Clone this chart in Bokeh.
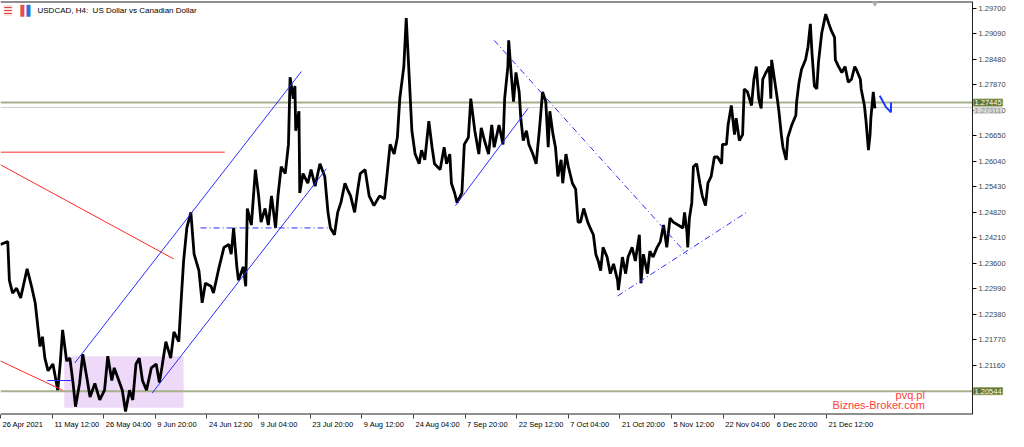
from bokeh.plotting import figure
from bokeh.models import Range1d, FixedTicker, Label, LinearAxis
from bokeh.embed import file_html
from bokeh.resources import INLINE

# ---------------- data (H4 bar index, price) ----------------
bars = [0, 9, 11, 15, 20, 25, 33, 39, 43, 47, 49, 52, 55, 59, 65, 71, 74, 77, 82, 86,
        90, 93, 98, 102, 107, 111, 117, 123, 129, 133, 138, 141, 148, 151, 155, 160, 164, 168, 172, 176,
        181, 187, 193, 197, 200, 205, 211, 215, 221, 224, 227, 231, 236, 240, 246, 250, 254, 261, 264, 270,
        277, 283, 286, 289, 293, 295, 301, 304, 306, 311, 316, 320, 323, 328, 332, 336, 341, 344, 348, 353,
        357, 359, 363, 365, 366, 370, 371, 375, 381, 385, 390, 396, 402, 406, 409, 414, 418, 422, 427, 430,
        434, 439, 443, 446, 452, 457, 463, 470, 476, 479, 483, 488, 492, 495, 500, 503, 507, 510, 514, 519,
        522, 526, 531, 535, 538, 545, 550, 553, 557, 559, 563, 566, 572, 575, 580, 583, 588, 593, 596, 600,
        605, 609, 612, 618, 623, 625, 629, 630, 633, 636, 639, 643, 645, 648, 652, 655, 660, 664, 668, 672,
        676, 679, 681, 685, 688, 691, 695, 697, 701, 704, 709, 713, 716, 719, 723, 728, 731, 735, 738, 741,
        744, 747, 752, 756, 760, 765, 766, 771, 775, 778, 783, 787, 792, 794, 797, 802, 805, 809, 814, 818,
        822, 826, 830, 834, 840, 846, 848, 851, 852, 854, 857, 859, 863, 867, 870, 874, 877, 881, 885, 889,
        894, 895, 900, 902, 906, 910, 912, 916, 920, 922, 926, 931, 934, 937, 940, 943, 945, 949, 953, 955,
        956, 959, 963, 965, 968, 970, 974, 976, 981, 986, 987, 990, 993, 998, 1001, 1004, 1006, 1009, 1012, 1014,
        1018, 1023, 1027, 1030, 1034, 1035, 1039, 1043, 1047, 1051, 1055, 1059, 1061, 1066, 1067, 1071, 1073, 1076, 1078, 1079,
        1082, 1084]
close = [1.24053, 1.24122, 1.23193, 1.22891, 1.23007, 1.22774, 1.23472, 1.23007, 1.22658, 1.21961,
         1.21612, 1.21845, 1.21334, 1.21031, 1.21194, 1.20567, 1.21194, 1.22008, 1.21264, 1.21334,
         1.20729, 1.20172, 1.20729, 1.21427, 1.20869, 1.20404, 1.20729, 1.20334, 1.20567, 1.21380,
         1.20799, 1.21101, 1.20729, 1.20567, 1.20055, 1.20567, 1.20334, 1.21194, 1.21334, 1.20799,
         1.20567, 1.21101, 1.21194, 1.20753, 1.21101, 1.21729, 1.21334, 1.21961, 1.21729, 1.22728,
         1.23658, 1.24448, 1.24820, 1.23820, 1.23425, 1.22658, 1.23123, 1.23053, 1.22891, 1.23425,
         1.23983, 1.24053, 1.23820, 1.24448, 1.23518, 1.23193, 1.23518, 1.23053, 1.24913, 1.24517,
         1.25842, 1.25215, 1.24587, 1.24913, 1.24517, 1.25215, 1.24448, 1.25215, 1.25912, 1.25749,
         1.26446, 1.28050, 1.27539, 1.27841, 1.26772, 1.27237, 1.25284, 1.25749, 1.25517, 1.25842,
         1.25447, 1.25982, 1.25679, 1.24820, 1.24448, 1.24285, 1.24820, 1.25052, 1.25517, 1.25377,
         1.25215, 1.24820, 1.25377, 1.25749, 1.25842, 1.25215, 1.24982, 1.25215, 1.25145, 1.25679,
         1.26446, 1.26214, 1.26609, 1.27539, 1.28306, 1.29468, 1.27934, 1.26772, 1.26214, 1.25982,
         1.26307, 1.26075, 1.27004, 1.26377, 1.25982, 1.25842, 1.26377, 1.25982, 1.26214, 1.25517,
         1.25284, 1.25052, 1.25284, 1.26446, 1.26609, 1.27539, 1.26772, 1.26214, 1.26841, 1.26539,
         1.26214, 1.26911, 1.26377, 1.26911, 1.26446, 1.27539, 1.28306, 1.28933, 1.28166, 1.27469,
         1.28166, 1.27701, 1.27074, 1.26539, 1.26772, 1.26446, 1.26214, 1.25982, 1.26772, 1.27701,
         1.27469, 1.26377, 1.27237, 1.26679, 1.26377, 1.25679, 1.26075, 1.25517, 1.26214, 1.25912,
         1.25517, 1.25377, 1.24587, 1.24587, 1.24913, 1.24587, 1.24448, 1.24285, 1.23820, 1.23658,
         1.23425, 1.23983, 1.23751, 1.23355, 1.23588, 1.23193, 1.22960, 1.23751, 1.23355, 1.23751,
         1.23983, 1.23658, 1.24285, 1.23123, 1.23820, 1.23355, 1.23890, 1.23751, 1.23983, 1.24122,
         1.24517, 1.23983, 1.24680, 1.24587, 1.24517, 1.24448, 1.24820, 1.24355, 1.23983, 1.24680,
         1.25052, 1.25912, 1.25982, 1.25517, 1.25215, 1.24982, 1.25517, 1.25679, 1.26144, 1.26144,
         1.25982, 1.26446, 1.26446, 1.26911, 1.27376, 1.26679, 1.27074, 1.26539, 1.26679, 1.27771,
         1.27701, 1.27376, 1.28003, 1.28306, 1.27539, 1.27306, 1.28003, 1.28166, 1.28306, 1.27539,
         1.28468, 1.28073, 1.27539, 1.27237, 1.26679, 1.26377, 1.26075, 1.26609, 1.26911, 1.27144,
         1.27469, 1.27934, 1.28236, 1.28468, 1.28770, 1.29328, 1.28631, 1.27841, 1.27771, 1.28399,
         1.29096, 1.29561, 1.29328, 1.29165, 1.29003, 1.28468, 1.28306, 1.28166, 1.28306, 1.27934,
         1.28003, 1.28306, 1.28236, 1.28003, 1.27771, 1.27376, 1.27004, 1.26307, 1.26679, 1.27074,
         1.27701, 1.27306]

x_tick_bars = [0, 64, 128, 192, 256, 320, 384, 448, 512, 576, 640, 704, 768, 832, 896, 960, 1024]
x_tick_labels = ["26 Apr 2021", "11 May 12:00", "26 May 04:00", "9 Jun 20:00", "24 Jun 12:00",
                 "9 Jul 04:00", "23 Jul 20:00", "9 Aug 12:00", "24 Aug 04:00", "7 Sep 20:00",
                 "22 Sep 12:00", "7 Oct 04:00", "21 Oct 20:00", "5 Nov 12:00", "22 Nov 04:00",
                 "6 Dec 20:00", "21 Dec 12:00"]
y_ticks = [1.29700, 1.29090, 1.28480, 1.27870, 1.27260, 1.26650, 1.26040, 1.25430,
           1.24820, 1.24210, 1.23600, 1.22990, 1.22380, 1.21770, 1.21160]
y_tick_labels = ["1.29700", "1.29090", "1.28480", "1.27870", "1.27260", "1.26650", "1.26040", "1.25430",
                 "1.24820", "1.24210", "1.23600", "1.22990", "1.22380", "1.21770", "1.21160"]

green_levels = [1.27445, 1.20544]
green_labels = ["1.27445", "1.20544"]
ask_level = 1.27330
ask_label = "1.27311"

# drawn objects: (bars, prices)
red_hline = ([0, 278], [1.26260, 1.26260])
red_diag_upper = ([0, 215], [1.25958, 1.23704])
red_diag_lower = ([0, 77], [1.21264, 1.20567])
blue_short = ([58, 89], [1.20799, 1.20799])
range_box = (79, 227, 1.20148, 1.21380)  # left, right, bottom, top
channel_upper = ([92, 373], [1.21217, 1.28189])
channel_lower = ([188, 404], [1.20497, 1.25865])
blue_dashdot_h = ([248, 407], [1.24448, 1.24448])
blue_solid = ([564, 654], [1.24982, 1.27306])
blue_dashdot_down = ([612, 851], [1.28933, 1.23820])
blue_dashdot_up = ([765, 925], [1.22821, 1.24820])
blue_arrow = ([1090, 1098, 1104, 1104], [1.27608, 1.27330, 1.27214, 1.27446])

# ---------------- layout ----------------
W, H = 1008, 431
AXIS_PX = 36                      # width of the price scale strip
X0, XAX = 0, 1205                 # chart area in bars (price scale sits at XAX)
BPP = (XAX - X0) / (W - AXIS_PX)  # bars per pixel
X1 = X0 + W * BPP                 # frame extends under the price scale strip
Y0, Y1 = 1.19986, 1.29863
FONT = "Liberation Sans"
XFS = 7.5
YFS = 7.5

p = figure(width=W, height=H, x_range=Range1d(X0, X1), y_range=Range1d(Y0, Y1),
           output_backend="svg", toolbar_location=None, y_axis_location="right",
           x_axis_location=None,
           min_border_left=0, min_border_right=0, min_border_top=1, min_border_bottom=0,
           background_fill_color="white", border_fill_color="white")
p.grid.visible = False
p.outline_line_color = None

# --- price scale drawn at the chart's right edge ---
p.yaxis.fixed_location = XAX
p.yaxis.ticker = FixedTicker(ticks=y_ticks)
p.yaxis.major_label_overrides = {t: l for t, l in zip(y_ticks, y_tick_labels)}
p.yaxis.major_tick_in = 0
p.yaxis.major_tick_out = 4
p.yaxis.minor_tick_line_color = None
p.yaxis.major_label_standoff = 2
p.yaxis.major_label_text_font = FONT
p.yaxis.major_label_text_font_size = f"{YFS}px"
p.yaxis.axis_line_color = "#202020"

# --- time scale: tick marks as minor ticks, left-aligned labels as major ticks ---
_aw = {"0": .556, "1": .556, "2": .556, "3": .556, "4": .556, "5": .556, "6": .556, "7": .556,
       "8": .556, "9": .556, " ": .278, ":": .278, "A": .667, "p": .556, "r": .333, "M": .833,
       "a": .556, "y": .5, "J": .5, "u": .556, "n": .556, "l": .222, "S": .667, "e": .556,
       "O": .778, "c": .5, "t": .278, "N": .722, "o": .556, "v": .5, "D": .722, "g": .556}
label_pos = []
for b, lab in zip(x_tick_bars, x_tick_labels):
    wpx = sum(_aw.get(c, .55) for c in lab) * XFS
    label_pos.append(b + (2 + wpx / 2) * BPP)
time_axis = LinearAxis(ticker=FixedTicker(ticks=label_pos, minor_ticks=x_tick_bars),
                       major_label_overrides={lp: lab for lp, lab in zip(label_pos, x_tick_labels)},
                       major_tick_line_color=None, major_tick_in=0, major_tick_out=4,
                       minor_tick_in=0, minor_tick_out=4, minor_tick_line_color="#404040",
                       axis_line_color=None,
                       major_label_standoff=1, major_label_text_font=FONT,
                       major_label_text_font_size=f"{XFS}px", major_label_text_color="black")
p.add_layout(time_axis, "below")

# chart borders (top and bottom of the chart window)
p.line([X0, XAX], [Y1, Y1], line_color="#202020", line_width=2)
p.line([X0, XAX], [Y0, Y0], line_color="#202020", line_width=2)

# range box
p.quad(left=[range_box[0]], right=[range_box[1]], bottom=[range_box[2]], top=[range_box[3]],
       fill_color="#eed9f8", line_color=None)

# levels
for lv in green_levels:
    p.line([X0, XAX], [lv, lv], line_color="#a7b08c", line_width=2)
p.line([X0, XAX], [ask_level, ask_level], line_color="#cccccc", line_width=1)

# price
p.line(bars, close, line_color="black", line_width=2.8)

# red objects
for xs, ys in [red_hline, red_diag_upper, red_diag_lower]:
    p.line(xs, ys, line_color="#ff2a2a", line_width=1)

# blue objects
for xs, ys in [blue_short, channel_upper, channel_lower, blue_solid]:
    p.line(xs, ys, line_color="#2b2bff", line_width=1)
for xs, ys in [blue_dashdot_h, blue_dashdot_down, blue_dashdot_up]:
    p.line(xs, ys, line_color="#2b2bff", line_width=1, line_dash="6 3 1 3")
p.line(blue_arrow[0], blue_arrow[1], line_color="#1e3cff", line_width=2)

# chart shift marker
p.scatter([bars[-1]], [Y1], marker="inverted_triangle", size=8, color="#a8a8a8")

# title
p.add_layout(Label(x=X0, y=Y1, x_offset=37, y_offset=-9,
                   text="USDCAD, H4:\u00a0 US Dollar vs Canadian Dollar",
                   text_font=FONT, text_font_size="8px", text_baseline="middle", text_color="black"))
# icons
p.add_layout(Label(x=X0, y=Y1, x_offset=3, y_offset=-9, text="\u2630", text_font="DejaVu Sans",
                   text_font_size="10px", text_baseline="middle", text_color="#e04040",
                   background_fill_color="#fbe3e3"))
p.add_layout(Label(x=X0, y=Y1, x_offset=20, y_offset=-9, text="\u258c", text_font="DejaVu Sans",
                   text_font_size="10px", text_baseline="middle", text_color="#e05050"))
p.add_layout(Label(x=X0, y=Y1, x_offset=26, y_offset=-9, text="\u258c", text_font="DejaVu Sans",
                   text_font_size="10px", text_baseline="middle", text_color="#3070d0"))

# watermark
p.add_layout(Label(x=1146, y=1.20450, text="pvq.pl", text_font=FONT, text_font_size="11px",
                   text_align="right", text_baseline="middle", text_color="#ff3c3c"))
p.add_layout(Label(x=1146, y=1.20218, text="Biznes-Broker.com", text_font=FONT, text_font_size="11px",
                   text_align="right", text_baseline="middle", text_color="#ff3c3c"))

# price tags on the scale
p.add_layout(Label(x=XAX, y=ask_level, x_offset=1, y_offset=-3, text=ask_label, text_font=FONT,
                   text_font_size=f"{YFS}px", text_baseline="middle", text_color="#909090",
                   background_fill_color="#d8d8d8", padding=1))
for lv, lb in zip(green_levels, green_labels):
    p.add_layout(Label(x=XAX, y=lv, x_offset=1, text=lb, text_font=FONT, text_font_size=f"{YFS}px",
                       text_baseline="middle", text_color="white", background_fill_color="#5d7434",
                       border_line_color="#8da060", padding=1))

open("out.html", "w").write(file_html(p, INLINE))
